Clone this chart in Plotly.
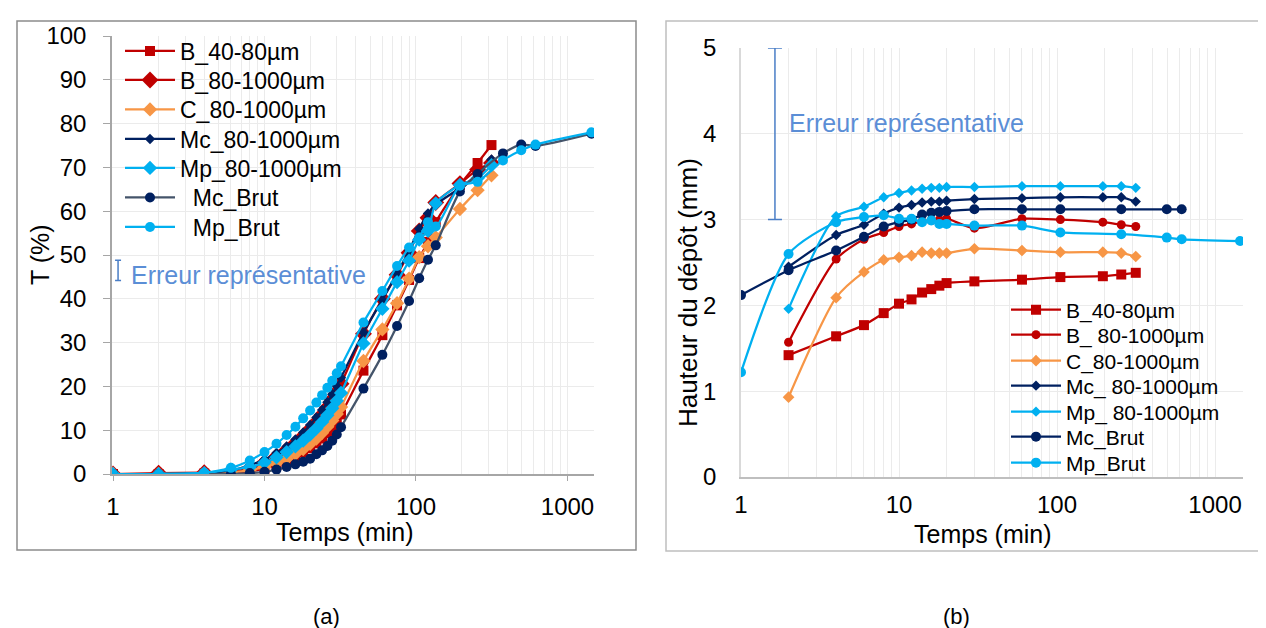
import plotly.graph_objects as go

W, H = 1266, 628

# ---------------- Chart (a) data ----------------
t_a = [1, 2, 4, 6, 8, 10, 12, 14, 16, 18, 20, 22, 24, 26, 28, 30, 32, 45, 60, 75, 90, 105, 120, 135, 195, 255, 315]
t_a_brut = [1, 2, 4, 6, 8, 10, 12, 14, 16, 18, 20, 22, 24, 26, 28, 30, 32, 45, 60, 75, 90, 105, 120, 135, 195, 255, 375, 495, 615, 1440]

a_B_40_80 = [0, 0, 0.1, 0.2, 0.6, 1.2, 2.0, 2.9, 3.9, 4.9, 5.9, 7.0, 8.1, 9.3, 10.6, 12.0, 13.6, 23.6, 31.7, 38.5, 44.3, 49.3, 53.0, 57.5, 66.0, 71.0, 75.1]
a_B_80_1000 = [0, 0.2, 0.3, 0.5, 1.3, 2.6, 4.0, 5.5, 7.0, 8.6, 10.2, 11.8, 13.5, 15.2, 17.0, 18.8, 20.6, 32.0, 40.0, 45.5, 50.5, 55.5, 58.5, 62.0, 66.3, 69.5, 71.0]
a_C_80_1000 = [0, 0, 0.1, 0.4, 0.9, 1.6, 2.5, 3.5, 4.6, 5.7, 6.9, 8.1, 9.4, 10.8, 12.2, 13.7, 15.3, 25.8, 33.0, 39.0, 44.6, 49.5, 52.0, 54.0, 60.5, 64.8, 68.2]
a_Mc_80_1000 = [0, 0, 0.2, 0.8, 2.0, 3.3, 4.8, 6.3, 7.9, 9.5, 11.2, 12.9, 14.6, 16.4, 18.2, 20.1, 22.0, 32.3, 39.8, 45.8, 51.0, 56.0, 59.5, 61.5, 65.3, 68.3, 71.8]
a_Mp_80_1000 = [0, 0, 0.2, 1.0, 1.6, 2.6, 3.8, 5.0, 6.3, 7.6, 9.0, 10.4, 11.9, 13.4, 15.0, 16.7, 18.5, 29.8, 37.7, 43.8, 48.7, 53.5, 55.5, 61.8, 66.0, 67.5, 70.5]
a_Mc_Brut = [0, 0, 0, 0, 0.2, 0.5, 1.0, 1.6, 2.2, 2.8, 3.5, 4.5, 5.4, 6.4, 7.6, 9.0, 10.7, 19.5, 27.2, 33.8, 39.5, 44.7, 48.9, 52.2, 64.5, 68.5, 73.2, 75.2, 74.9, 77.7]
a_Mp_Brut = [0, 0, 0.3, 1.4, 3.1, 5.0, 6.9, 8.9, 10.8, 12.7, 14.5, 16.3, 18.0, 19.7, 21.3, 23.0, 24.6, 34.6, 41.8, 47.5, 51.7, 54.0, 57.5, 56.5, 65.8, 66.7, 71.6, 73.9, 75.2, 78.0]

# ---------------- Chart (b) data ----------------
t_b = [2, 4, 6, 8, 10, 12, 14, 16, 18, 20, 30, 60, 105, 195, 255, 315]
t_b_mc_brut = [1, 2, 4, 6, 8, 10, 12, 14, 16, 18, 20, 30, 60, 105, 255, 495, 615]
t_b_mp_brut = [1, 2, 4, 6, 8, 10, 12, 14, 16, 18, 20, 30, 60, 105, 255, 495, 615, 1440]

b_B_40_80 = [1.42, 1.64, 1.77, 1.91, 2.02, 2.07, 2.15, 2.19, 2.23, 2.26, 2.28, 2.30, 2.33, 2.34, 2.36, 2.38]
b_B_80_1000 = [1.57, 2.54, 2.77, 2.85, 2.92, 2.95, 2.98, 2.99, 3.00, 3.01, 2.90, 3.01, 3.00, 2.97, 2.94, 2.92]
b_C_80_1000 = [0.93, 2.09, 2.39, 2.53, 2.56, 2.58, 2.62, 2.61, 2.61, 2.61, 2.66, 2.64, 2.62, 2.62, 2.61, 2.57]
b_Mc_80_1000 = [2.45, 2.82, 2.94, 3.07, 3.14, 3.17, 3.20, 3.21, 3.21, 3.22, 3.24, 3.25, 3.26, 3.26, 3.26, 3.21]
b_Mp_80_1000 = [1.96, 3.04, 3.15, 3.26, 3.31, 3.34, 3.36, 3.37, 3.37, 3.38, 3.38, 3.39, 3.39, 3.39, 3.39, 3.37]
b_Mc_Brut = [2.12, 2.41, 2.64, 2.80, 2.92, 2.97, 3.00, 3.06, 3.08, 3.09, 3.10, 3.12, 3.12, 3.12, 3.12, 3.12, 3.12]
b_Mp_Brut = [1.22, 2.60, 2.97, 3.03, 3.05, 3.01, 3.01, 2.97, 2.99, 2.95, 2.95, 2.93, 2.93, 2.85, 2.83, 2.79, 2.77, 2.75]

# error bars ("Erreur représentative")
err_a_x, err_a_y, err_a_half = [1.08], [46.5], [2.3]
err_b_x, err_b_y, err_b_half = [1.64], [4.0], [1.0]

x_ticks = [1, 10, 100, 1000]
x_ticktext = ["1", "10", "100", "1000"]

RED = "#C00000"
ORANGE = "#F79646"
NAVY = "#002060"
LBLUE = "#00B0F0"
SLATE = "#44546A"
ERRC = "#4A7EC6"
TXTBLUE = "#5B8ED6"
FONT = "Arial, Liberation Sans, sans-serif"

def px(x):
    return x / W

def py(y):
    return 1 - y / H

fig = go.Figure()
legends = {}
counter = [0]

def add(x, y, name, color, symbol, size, xa, ya, leg_x, leg_y, fsize, lcolor=None, lw=2.25):
    counter[0] += 1
    lid = "legend" if counter[0] == 1 else "legend%d" % counter[0]
    legends[lid] = dict(x=px(leg_x), y=py(leg_y), xanchor="left", yanchor="middle",
                        bgcolor="rgba(255,255,255,0)", borderwidth=0,
                        font=dict(family=FONT, size=fsize, color="#000"),
                        itemwidth=50)
    fig.add_trace(go.Scatter(
        x=x, y=y, name=name, mode="lines+markers",
        line=dict(color=lcolor or color, width=lw, shape="spline", smoothing=0.7),
        marker=dict(color=color, symbol=symbol, size=size, line=dict(width=0)),
        legend=lid, xaxis=xa, yaxis=ya))

LX_A, LX_B = 112, 998
rows_a = [43, 72, 101.5, 131, 160, 189.5, 219]
rows_b = [302, 327, 353, 378, 404, 429, 455]

# chart (a)
add(t_a, a_B_40_80, "B_40-80µm", RED, "square", 10, "x", "y", LX_A, rows_a[0], 23)
add(t_a, a_B_80_1000, "B_80-1000µm", RED, "diamond", 13, "x", "y", LX_A, rows_a[1], 23)
add(t_a, a_C_80_1000, "C_80-1000µm", ORANGE, "diamond", 11, "x", "y", LX_A, rows_a[2], 23)
add(t_a, a_Mc_80_1000, "Mc_80-1000µm", NAVY, "diamond", 8, "x", "y", LX_A, rows_a[3], 23)
add(t_a, a_Mp_80_1000, "Mp_80-1000µm", LBLUE, "diamond", 11, "x", "y", LX_A, rows_a[4], 23)
add(t_a_brut, a_Mc_Brut, "\u00a0\u00a0Mc_Brut", NAVY, "circle", 10, "x", "y", LX_A, rows_a[5], 23, lcolor=SLATE)
add(t_a_brut, a_Mp_Brut, "\u00a0\u00a0Mp_Brut", LBLUE, "circle", 10, "x", "y", LX_A, rows_a[6], 23)

# chart (b)
add(t_b, b_B_40_80, "B_40-80µm", RED, "square", 10, "x2", "y2", LX_B, rows_b[0], 21)
add(t_b, b_B_80_1000, "B_ 80-1000µm", RED, "circle", 9, "x2", "y2", LX_B, rows_b[1], 21)
add(t_b, b_C_80_1000, "C_80-1000µm", ORANGE, "diamond", 9, "x2", "y2", LX_B, rows_b[2], 21)
add(t_b, b_Mc_80_1000, "Mc_ 80-1000µm", NAVY, "diamond", 8, "x2", "y2", LX_B, rows_b[3], 21)
add(t_b, b_Mp_80_1000, "Mp_ 80-1000µm", LBLUE, "diamond", 8, "x2", "y2", LX_B, rows_b[4], 21)
add(t_b_mc_brut, b_Mc_Brut, "Mc_Brut", NAVY, "circle", 10, "x2", "y2", LX_B, rows_b[5], 21)
add(t_b_mp_brut, b_Mp_Brut, "Mp_Brut", LBLUE, "circle", 10, "x2", "y2", LX_B, rows_b[6], 21)

# error bars
fig.add_trace(go.Scatter(x=err_a_x, y=err_a_y, mode="markers", showlegend=False,
                         marker=dict(size=1, opacity=0),
                         error_y=dict(type="data", array=err_a_half, color=ERRC, thickness=1.5, width=3),
                         xaxis="x", yaxis="y", hoverinfo="skip"))
fig.add_trace(go.Scatter(x=err_b_x, y=err_b_y, mode="markers", showlegend=False,
                         marker=dict(size=1, opacity=0),
                         error_y=dict(type="data", array=err_b_half, color=ERRC, thickness=1.5, width=7),
                         xaxis="x2", yaxis="y2", hoverinfo="skip"))

GRID = "#EBEBEB"

def xaxis(domain, rng, anchor, linecolor, ticks):
    return dict(type="log", domain=domain, range=rng, anchor=anchor, automargin=False,
                tickvals=x_ticks, ticktext=x_ticktext,
                showgrid=True, gridcolor=GRID, gridwidth=1.3,
                minor=dict(dtick="D1", showgrid=True, gridcolor=GRID, gridwidth=1.3, ticks=""),
                showline=True, linecolor=linecolor, linewidth=1.5,
                ticks=ticks, ticklen=5, tickcolor=linecolor, ticklabelstandoff=5,
                tickfont=dict(family=FONT, size=24, color="#000"),
                zeroline=False, fixedrange=True)

def yaxis(domain, rng, dtick, anchor, linecolor, ticks, standoff):
    return dict(domain=domain, range=rng, dtick=dtick, anchor=anchor, automargin=False,
                showgrid=True, gridcolor=GRID, gridwidth=1.3,
                showline=True, linecolor=linecolor, linewidth=1.5,
                ticks=ticks, ticklen=7, tickcolor=linecolor, ticklabelstandoff=standoff,
                tickfont=dict(family=FONT, size=24, color="#000"),
                zeroline=False, fixedrange=True)

layout = dict(
    width=W, height=H, margin=dict(l=0, r=0, t=0, b=0, autoexpand=False),
    paper_bgcolor="white", plot_bgcolor="white",
    font=dict(family=FONT, size=20, color="#000"),
    xaxis=xaxis([px(104), px(586)], [-0.0066, 3.175], "y", "#A6A6A6", "outside"),
    yaxis=yaxis([py(466), py(28)], [0, 100], 10, "x", "#A6A6A6", "outside", 12),
    xaxis2=xaxis([px(733), px(1235)], [0, 3.177], "y2", "#BFBFBF", ""),
    yaxis2=yaxis([py(469), py(40)], [0, 5], 1, "x2", "#D9D9D9", "", 18),
    showlegend=True,
)
layout.update(legends)
fig.update_layout(**layout)

shapes = [
    dict(type="rect", xref="paper", yref="paper", x0=px(9), x1=px(628), y0=py(542), y1=py(13),
         line=dict(color="#8C8C8C", width=1.5), fillcolor="rgba(0,0,0,0)", layer="below"),
    dict(type="rect", xref="paper", yref="paper", x0=px(658), x1=px(1258), y0=py(543), y1=py(13),
         line=dict(color="#BFBFBF", width=1.5), fillcolor="rgba(0,0,0,0)", layer="below"),
]
fig.update_layout(shapes=shapes)

ann = [
    dict(text="Temps (min)", x=px(337), y=py(524), font=dict(size=25)),
    dict(text="T (%)", x=px(32), y=py(247), font=dict(size=25), textangle=-90),
    dict(text="Temps (min)", x=px(975), y=py(526), font=dict(size=25)),
    dict(text="Hauteur du dépôt (mm)", x=px(680), y=py(285), font=dict(size=26), textangle=-90),
    dict(text="Erreur représentative", x=px(121), y=py(267), font=dict(size=25, color=TXTBLUE), xanchor="left"),
    dict(text="Erreur représentative", x=px(779), y=py(115), font=dict(size=25, color=TXTBLUE), xanchor="left"),
    dict(text="(a)", x=px(318), y=py(608), font=dict(size=22)),
    dict(text="(b)", x=px(948), y=py(608), font=dict(size=22)),
]
for a in ann:
    a.setdefault("xanchor", "center")
    a.update(xref="paper", yref="paper", showarrow=False, yanchor="middle")
fig.update_layout(annotations=ann)

fig.write_html("out.html")
